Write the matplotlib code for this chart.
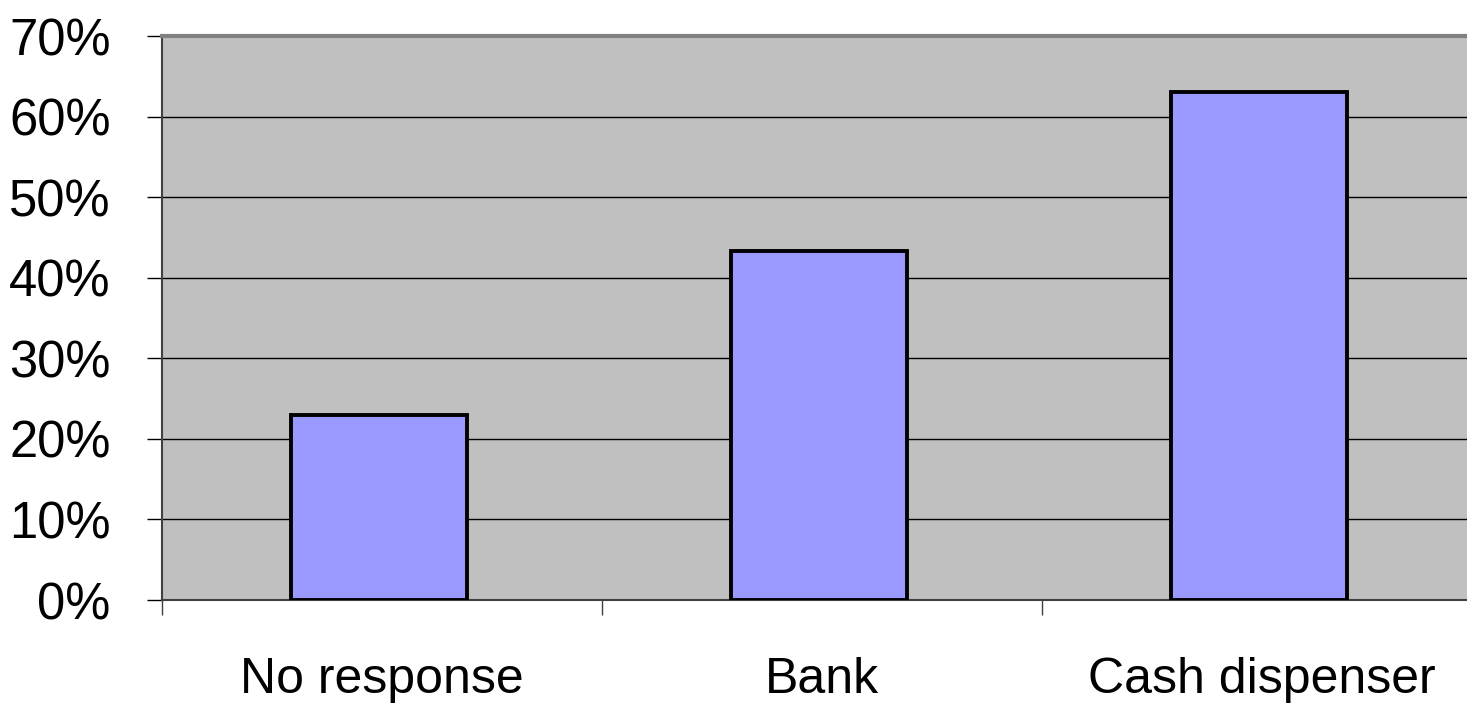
import numpy as np
import matplotlib.pyplot as plt
from matplotlib.ticker import PercentFormatter

categories = ["No response", "Bank", "Cash dispenser"]
values = [23, 43.3, 63]
yticks = [0, 10, 20, 30, 40, 50, 60, 70]

plt.rcParams['font.family'] = ['Liberation Sans', 'DejaVu Sans']

fig = plt.figure(figsize=(14.67, 7.05), dpi=100)
ax = fig.add_axes([162/1467, 105/705, 1320/1467, 564/705])
ax.set_facecolor("#C0C0C0")

x = np.arange(len(categories))
ax.bar(x - 0.007, values, width=0.4, color="#9999FF", edgecolor="black", linewidth=2.8, zorder=3)

ax.set_xlim(-0.5, len(categories) - 0.5)
ax.set_ylim(0, 70)
ax.set_yticks(yticks)
ax.yaxis.set_major_formatter(PercentFormatter(decimals=0))
ax.yaxis.grid(True, color="black", linewidth=1.0, zorder=1)
ax.set_axisbelow(True)

ax.set_xticks(x)
ax.set_xticklabels(categories)
ax.set_xticks(np.arange(len(categories) + 1) - 0.5, minor=True)
ax.tick_params(axis="x", which="major", length=0, pad=41, labelsize=36)
ax.tick_params(axis="x", which="minor", length=11, width=1.0, color="#404040")
ax.tick_params(axis="y", length=11, width=1.0, pad=26, labelsize=36.5)

ax.spines["top"].set_color("#808080")
ax.spines["top"].set_linewidth(3)
ax.spines["right"].set_visible(False)
ax.spines["left"].set_color("#404040")
ax.spines["left"].set_linewidth(1.5)
ax.spines["bottom"].set_color("#404040")
ax.spines["bottom"].set_linewidth(1.5)

fig.savefig("out.png", dpi=100)
